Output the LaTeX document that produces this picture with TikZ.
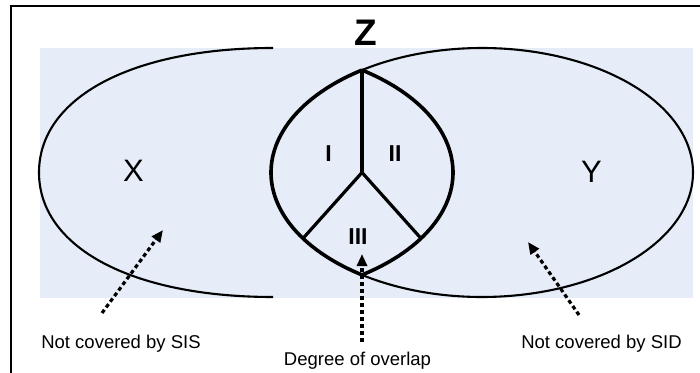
\documentclass[tikz,border=0pt]{standalone}
\usepackage{fontspec}
\setmainfont{Liberation Sans}
\usetikzlibrary{arrows.meta}
\definecolor{bgblue}{RGB}{230,237,248}
\tikzset{
  thinline/.style={line width=2.1pt},
  lensline/.style={line width=3.6pt},
  divline/.style={line width=3.2pt},
  pointer/.style={line width=3.2pt, dash pattern=on 4pt off 3pt,
    -{Triangle[length=12pt,width=10pt]}},
  bigletter/.style={anchor=base, inner sep=0pt, font=\fontsize{31}{31}\selectfont},
  romanlabel/.style={anchor=base, inner sep=0pt, font=\fontsize{23}{23}\selectfont\bfseries},
  caption/.style={anchor=base, inner sep=0pt, font=\fontsize{18.5}{18.5}\selectfont},
}
\begin{document}
\begin{tikzpicture}[x=1pt,y=1pt]
\useasboundingbox (0,0) rectangle (700,372);
\begin{scope}
\clip (0,0) rectangle (700,372);
\draw[line width=2.6pt] (11,366) rectangle (710,-10);
\end{scope}
\fill[bgblue] (40,324) rectangle (693,74);

% centres
\coordinate (Yc) at (482,199.5);
\coordinate (Mc) at (242,199.5);
\coordinate (J) at (362,199.5);
\coordinate (Ltop) at (362,301.9);
\coordinate (Lbot) at (362,97.1);
\coordinate (Lleft) at (303,133.6);
\coordinate (Lright) at (421,133.6);

% X shape
\draw[thinline] (273,324) .. controls (131,324) and (39,274) .. (39,199.5)
  .. controls (39,125) and (131,75) .. (273,75);
% Y ellipse outline
\draw[thinline] (Lbot) arc[start angle=-124.66, end angle=124.66, x radius=211, y radius=124.5];
% lens Z
\draw[lensline] (Ltop) arc[start angle=124.66, end angle=235.34, x radius=211, y radius=124.5];
\draw[lensline] (Lbot) arc[start angle=-55.34, end angle=55.34, x radius=211, y radius=124.5];
% divisions
\draw[divline] (J) -- (Ltop);
\draw[divline] (J) -- (Lleft);
\draw[divline] (J) -- (Lright);

% labels
\node[anchor=base, inner sep=0pt, font=\fontsize{37}{37}\selectfont\bfseries] (zlab) at (365.5,326.5) {Z};
\node[bigletter] (xlab) at (133.5,190) {X};
\node[bigletter] (ylab) at (591.5,189) {Y};
\node[romanlabel] (r1) at (328.5,210) {I};
\node[romanlabel] (r2) at (395,210) {II};
\node[romanlabel] (r3) at (358,128) {III};

\node[caption] (sis) at (121,24) {Not covered by SIS};
\node[caption] (sid) at (601.5,24) {Not covered by SID};
\node[caption] (deg) at (357.5,7) {Degree of overlap};

% pointers
\coordinate (pxs) at (102,59);
\coordinate (pxe) at (163,142);
\coordinate (pys) at (579,57);
\coordinate (pye) at (528,130);
\coordinate (pms) at (362,30);
\coordinate (pme) at (362,118);
\draw[pointer] (pxs) -- (pxe);
\draw[pointer] (pys) -- (pye);
\draw[pointer] (pms) -- (pme);
\end{tikzpicture}
\end{document}
